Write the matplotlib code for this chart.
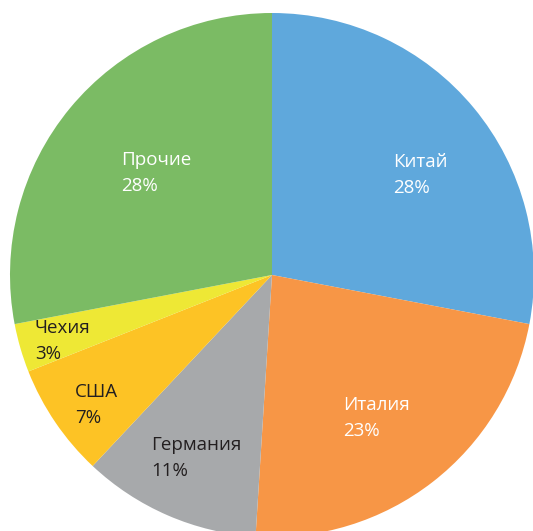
import matplotlib.pyplot as plt

countries = ['Китай', 'Италия', 'Германия', 'США', 'Чехия', 'Прочие']
shares = [28, 23, 11, 7, 3, 28]
colors = ['#5fa8dc', '#f79646', '#a7a9ab', '#fdc325', '#eee835', '#7bbb64']
text_colors = ['white', 'white', '#231f20', '#231f20', '#231f20', 'white']
# left edge / vertical middle of each label, in pixels from top-left
label_pos = [(393, 175), (343, 418), (151, 458), (75, 405), (35, 341), (121, 173)]

W, H = 533, 531
fig = plt.figure(figsize=(W / 100, H / 100), dpi=100)
ax = fig.add_axes([0, 0, 1, 1])

cx, cy, r = 272, H - 275, 262
ax.pie(shares, colors=colors, startangle=90, counterclock=False,
       center=(cx, cy), radius=r, frame=True,
       wedgeprops=dict(linewidth=0))
ax.set_xlim(0, W)
ax.set_ylim(0, H)
ax.set_aspect('equal')
ax.axis('off')

for name, s, (px, py), tc in zip(countries, shares, label_pos, text_colors):
    ax.text(px, H - py, '%s\n%d%%' % (name, s), color=tc, fontsize=13.5,
            family='Open Sans', ha='left', va='center', linespacing=1.6)

fig.savefig('out.png', dpi=100)
